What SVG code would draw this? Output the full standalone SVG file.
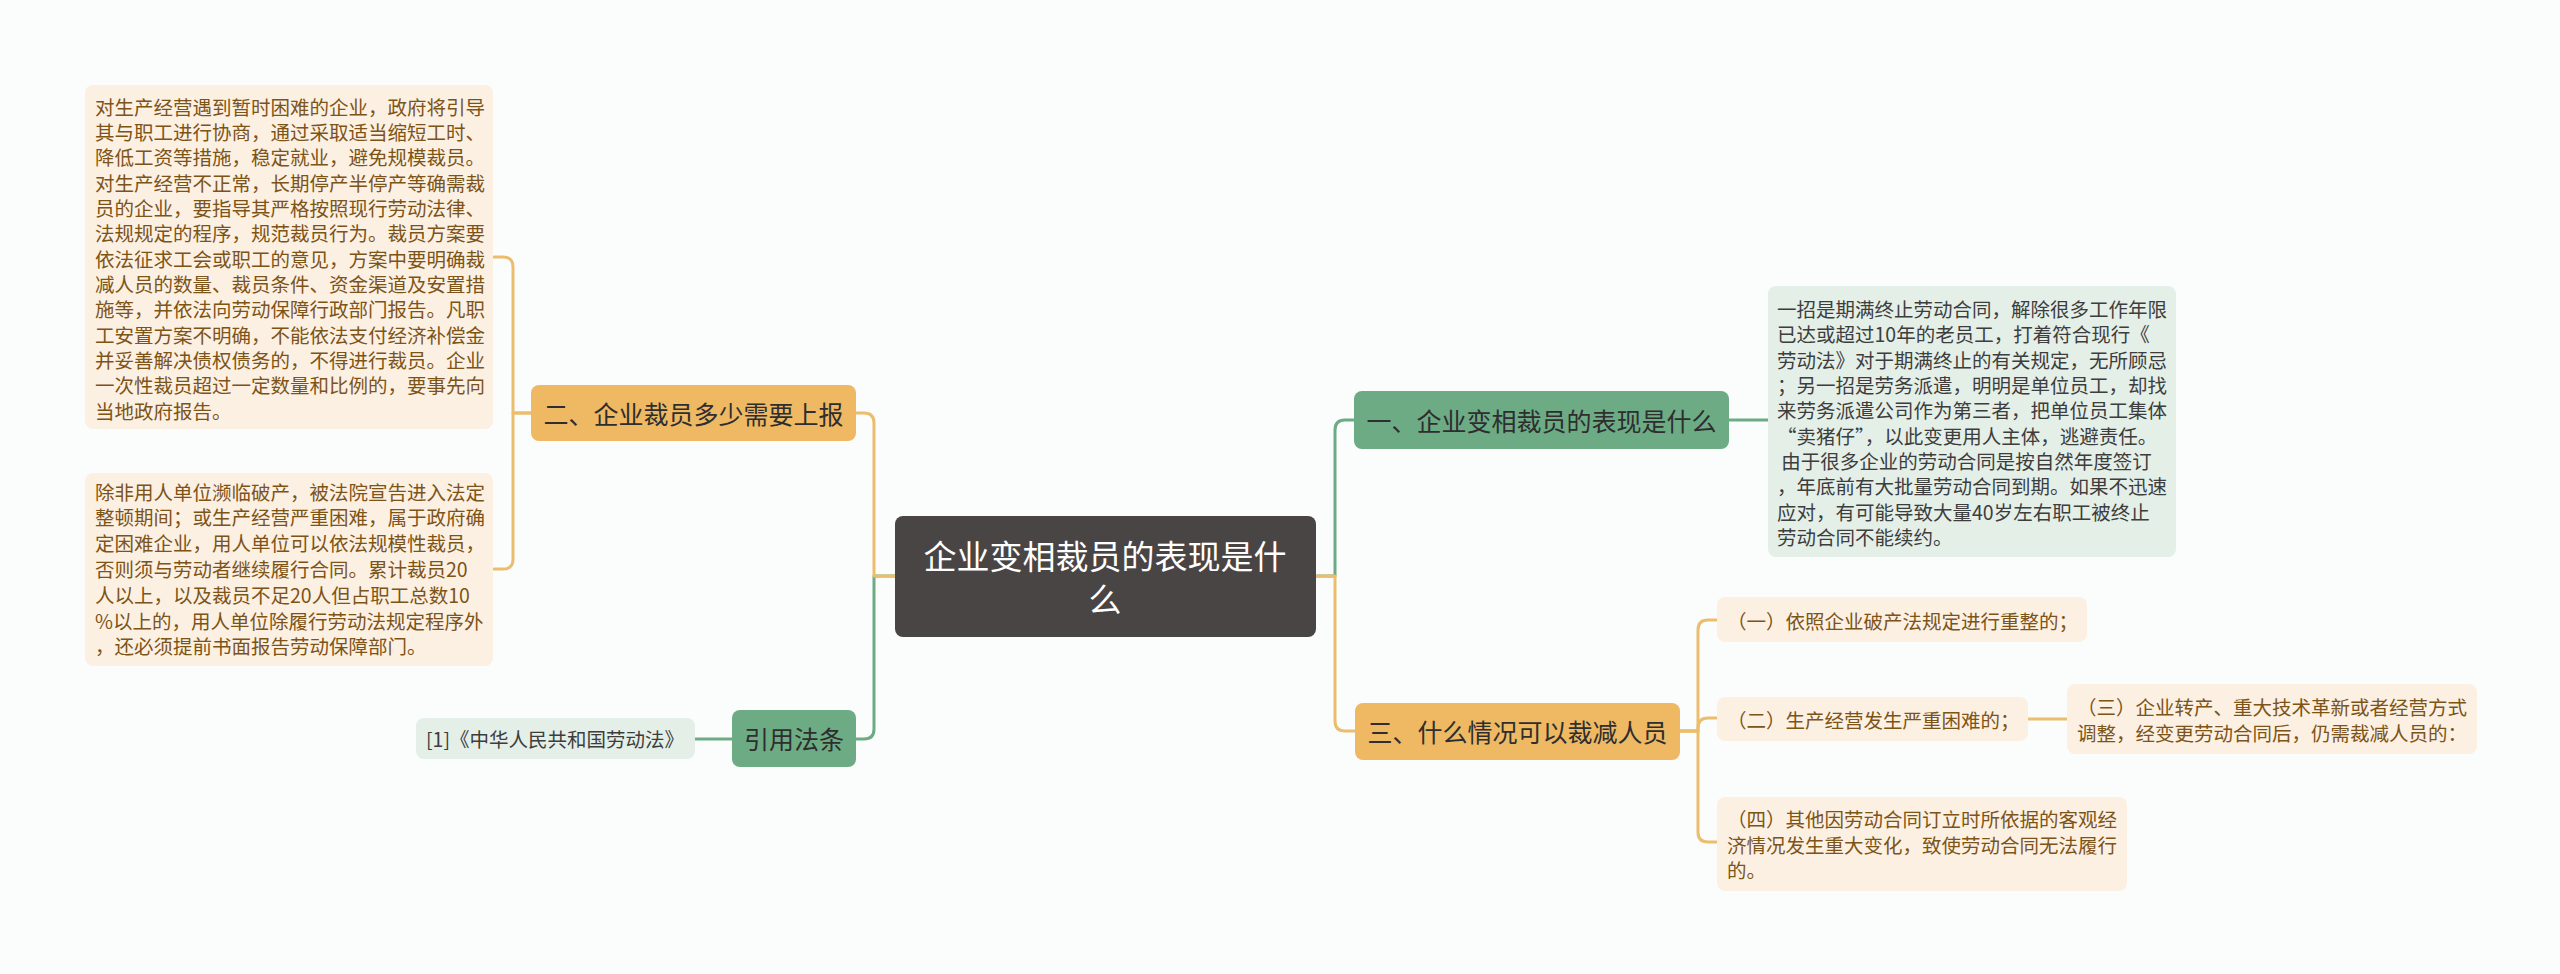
<svg xmlns="http://www.w3.org/2000/svg" width="2560" height="974" viewBox="0 0 2560 974">
<defs>
<style>
text{font-family:"Noto Sans CJK SC","Microsoft YaHei",sans-serif;dominant-baseline:central;}
.bg{fill:#fbfdfd;}
.root rect{fill:#4a4545;}
.root text{fill:#ffffff;font-size:33px;text-anchor:middle;}
.og rect{fill:#efb964;}
.gr rect{fill:#6dab85;}
.br text{fill:#2e2e2e;font-size:25px;text-anchor:middle;}
.lp rect{fill:#fcf0e2;}
.lp text{fill:#7d5418;font-size:19.5px;}
.lg rect{fill:#e4efe8;}
.lg text{fill:#3d3d3d;font-size:19.5px;}
.c{fill:none;stroke-width:3;stroke-linecap:round;stroke-linejoin:round;}
.co{stroke:#ecbd6c;}
.cg{stroke:#6dab85;}
</style>
</defs>
<rect class="bg" x="0" y="0" width="2560" height="974"/>
<g id="connectors">
<path class="c cg" d="M895 576 L874 576 L874 729 Q874 739 864 739 L856 739"/>
<path class="c co" d="M895 576 L874 576 L874 423 Q874 413 864 413 L856 413"/>
<path class="c cg" d="M1317 576 L1335 576 L1335 430 Q1335 420 1345 420 L1354 420"/>
<path class="c co" d="M1317 576 L1335 576 L1335 721 Q1335 731 1345 731 L1355 731"/>
<path class="c cg" d="M1729 420 L1768 420"/>
<path class="c co" d="M1680 731 L1698 731 L1698 630 Q1698 620 1708 620 L1717 620"/>
<path class="c co" d="M1680 731 L1698 731 L1698 728 Q1698 718 1708 718 L1717 718"/>
<path class="c co" d="M1680 731 L1698 731 L1698 832 Q1698 842 1708 842 L1717 842"/>
<path class="c co" d="M2028 719 L2067 719"/>
<path class="c co" d="M531 413 L513 413 L513 267 Q513 257 503 257 L494 257"/>
<path class="c co" d="M531 413 L513 413 L513 559 Q513 569 503 569 L494 569"/>
<path class="c cg" d="M732 739 L695 739"/>
</g>
<g id="root" class="root">
<rect x="895" y="516" width="421" height="121" rx="8"/>
<text x="1105" y="555">企业变相裁员的表现是什</text>
<text x="1105" y="598">么</text>
</g>
<g id="n2" class="br og">
<rect x="531" y="385" width="325" height="56" rx="8"/>
<text x="693.5" y="413">二、企业裁员多少需要上报</text>
</g>
<g id="n2a" class="lp">
<rect x="85" y="85" width="408" height="344" rx="8"/>
<text x="95" y="106">对生产经营遇到暂时困难的企业，政府将引导</text>
<text x="95" y="131.4">其与职工进行协商，通过采取适当缩短工时、</text>
<text x="95" y="156.7">降低工资等措施，稳定就业，避免规模裁员。</text>
<text x="95" y="182">对生产经营不正常，长期停产半停产等确需裁</text>
<text x="95" y="207.4">员的企业，要指导其严格按照现行劳动法律、</text>
<text x="95" y="232.7">法规规定的程序，规范裁员行为。裁员方案要</text>
<text x="95" y="258">依法征求工会或职工的意见，方案中要明确裁</text>
<text x="95" y="283.4">减人员的数量、裁员条件、资金渠道及安置措</text>
<text x="95" y="308.7">施等，并依法向劳动保障行政部门报告。凡职</text>
<text x="95" y="334">工安置方案不明确，不能依法支付经济补偿金</text>
<text x="95" y="359.4">并妥善解决债权债务的，不得进行裁员。企业</text>
<text x="95" y="384.7">一次性裁员超过一定数量和比例的，要事先向</text>
<text x="95" y="410">当地政府报告。</text>
</g>
<g id="n2b" class="lp">
<rect x="85" y="473" width="408" height="193" rx="8"/>
<text x="95" y="491">除非用人单位濒临破产，被法院宣告进入法定</text>
<text x="95" y="516.8">整顿期间；或生产经营严重困难，属于政府确</text>
<text x="95" y="542.6">定困难企业，用人单位可以依法规模性裁员，</text>
<text x="95" y="568.4">否则须与劳动者继续履行合同。累计裁员20</text>
<text x="95" y="594.2">人以上，以及裁员不足20人但占职工总数10</text>
<text x="95" y="620">%以上的，用人单位除履行劳动法规定程序外</text>
<text x="95" y="645.8">，还必须提前书面报告劳动保障部门。</text>
</g>
<g id="n4" class="br gr">
<rect x="732" y="710" width="124" height="57" rx="8"/>
<text x="794" y="738">引用法条</text>
</g>
<g id="n4a" class="lg">
<rect x="416" y="718" width="279" height="41" rx="8"/>
<text x="426" y="738">[1]《中华人民共和国劳动法》</text>
</g>
<g id="n1" class="br gr">
<rect x="1354" y="391" width="375" height="58" rx="8"/>
<text x="1541.5" y="420">一、企业变相裁员的表现是什么</text>
</g>
<g id="n1a" class="lg">
<rect x="1768" y="286" width="408" height="271" rx="8"/>
<text x="1777" y="308.6">一招是期满终止劳动合同，解除很多工作年限</text>
<text x="1777" y="333.9">已达或超过10年的老员工，打着符合现行《</text>
<text x="1777" y="359.2">劳动法》对于期满终止的有关规定，无所顾忌</text>
<text x="1777" y="384.5">；另一招是劳务派遣，明明是单位员工，却找</text>
<text x="1777" y="409.8">来劳务派遣公司作为第三者，把单位员工集体</text>
<text x="1777" y="435.1">“卖猪仔”，以此变更用人主体，逃避责任。</text>
<text x="1777" y="460.4" xml:space="preserve"> 由于很多企业的劳动合同是按自然年度签订</text>
<text x="1777" y="485.7">，年底前有大批量劳动合同到期。如果不迅速</text>
<text x="1777" y="511">应对，有可能导致大量40岁左右职工被终止</text>
<text x="1777" y="536.3">劳动合同不能续约。</text>
</g>
<g id="n3" class="br og">
<rect x="1355" y="703" width="325" height="57" rx="8"/>
<text x="1517.5" y="731">三、什么情况可以裁减人员</text>
</g>
<g id="n3a" class="lp">
<rect x="1717" y="597" width="370" height="45" rx="8"/>
<text x="1727" y="620">（一）依照企业破产法规定进行重整的；</text>
</g>
<g id="n3b" class="lp">
<rect x="1717" y="697" width="311" height="44" rx="8"/>
<text x="1727" y="719">（二）生产经营发生严重困难的；</text>
</g>
<g id="n3c" class="lp">
<rect x="2067" y="684" width="410" height="70" rx="8"/>
<text x="2077" y="706">（三）企业转产、重大技术革新或者经营方式</text>
<text x="2077" y="732">调整，经变更劳动合同后，仍需裁减人员的：</text>
</g>
<g id="n3d" class="lp">
<rect x="1717" y="797" width="410" height="94" rx="8"/>
<text x="1727" y="818">（四）其他因劳动合同订立时所依据的客观经</text>
<text x="1727" y="844">济情况发生重大变化，致使劳动合同无法履行</text>
<text x="1727" y="869">的。</text>
</g>
</svg>
